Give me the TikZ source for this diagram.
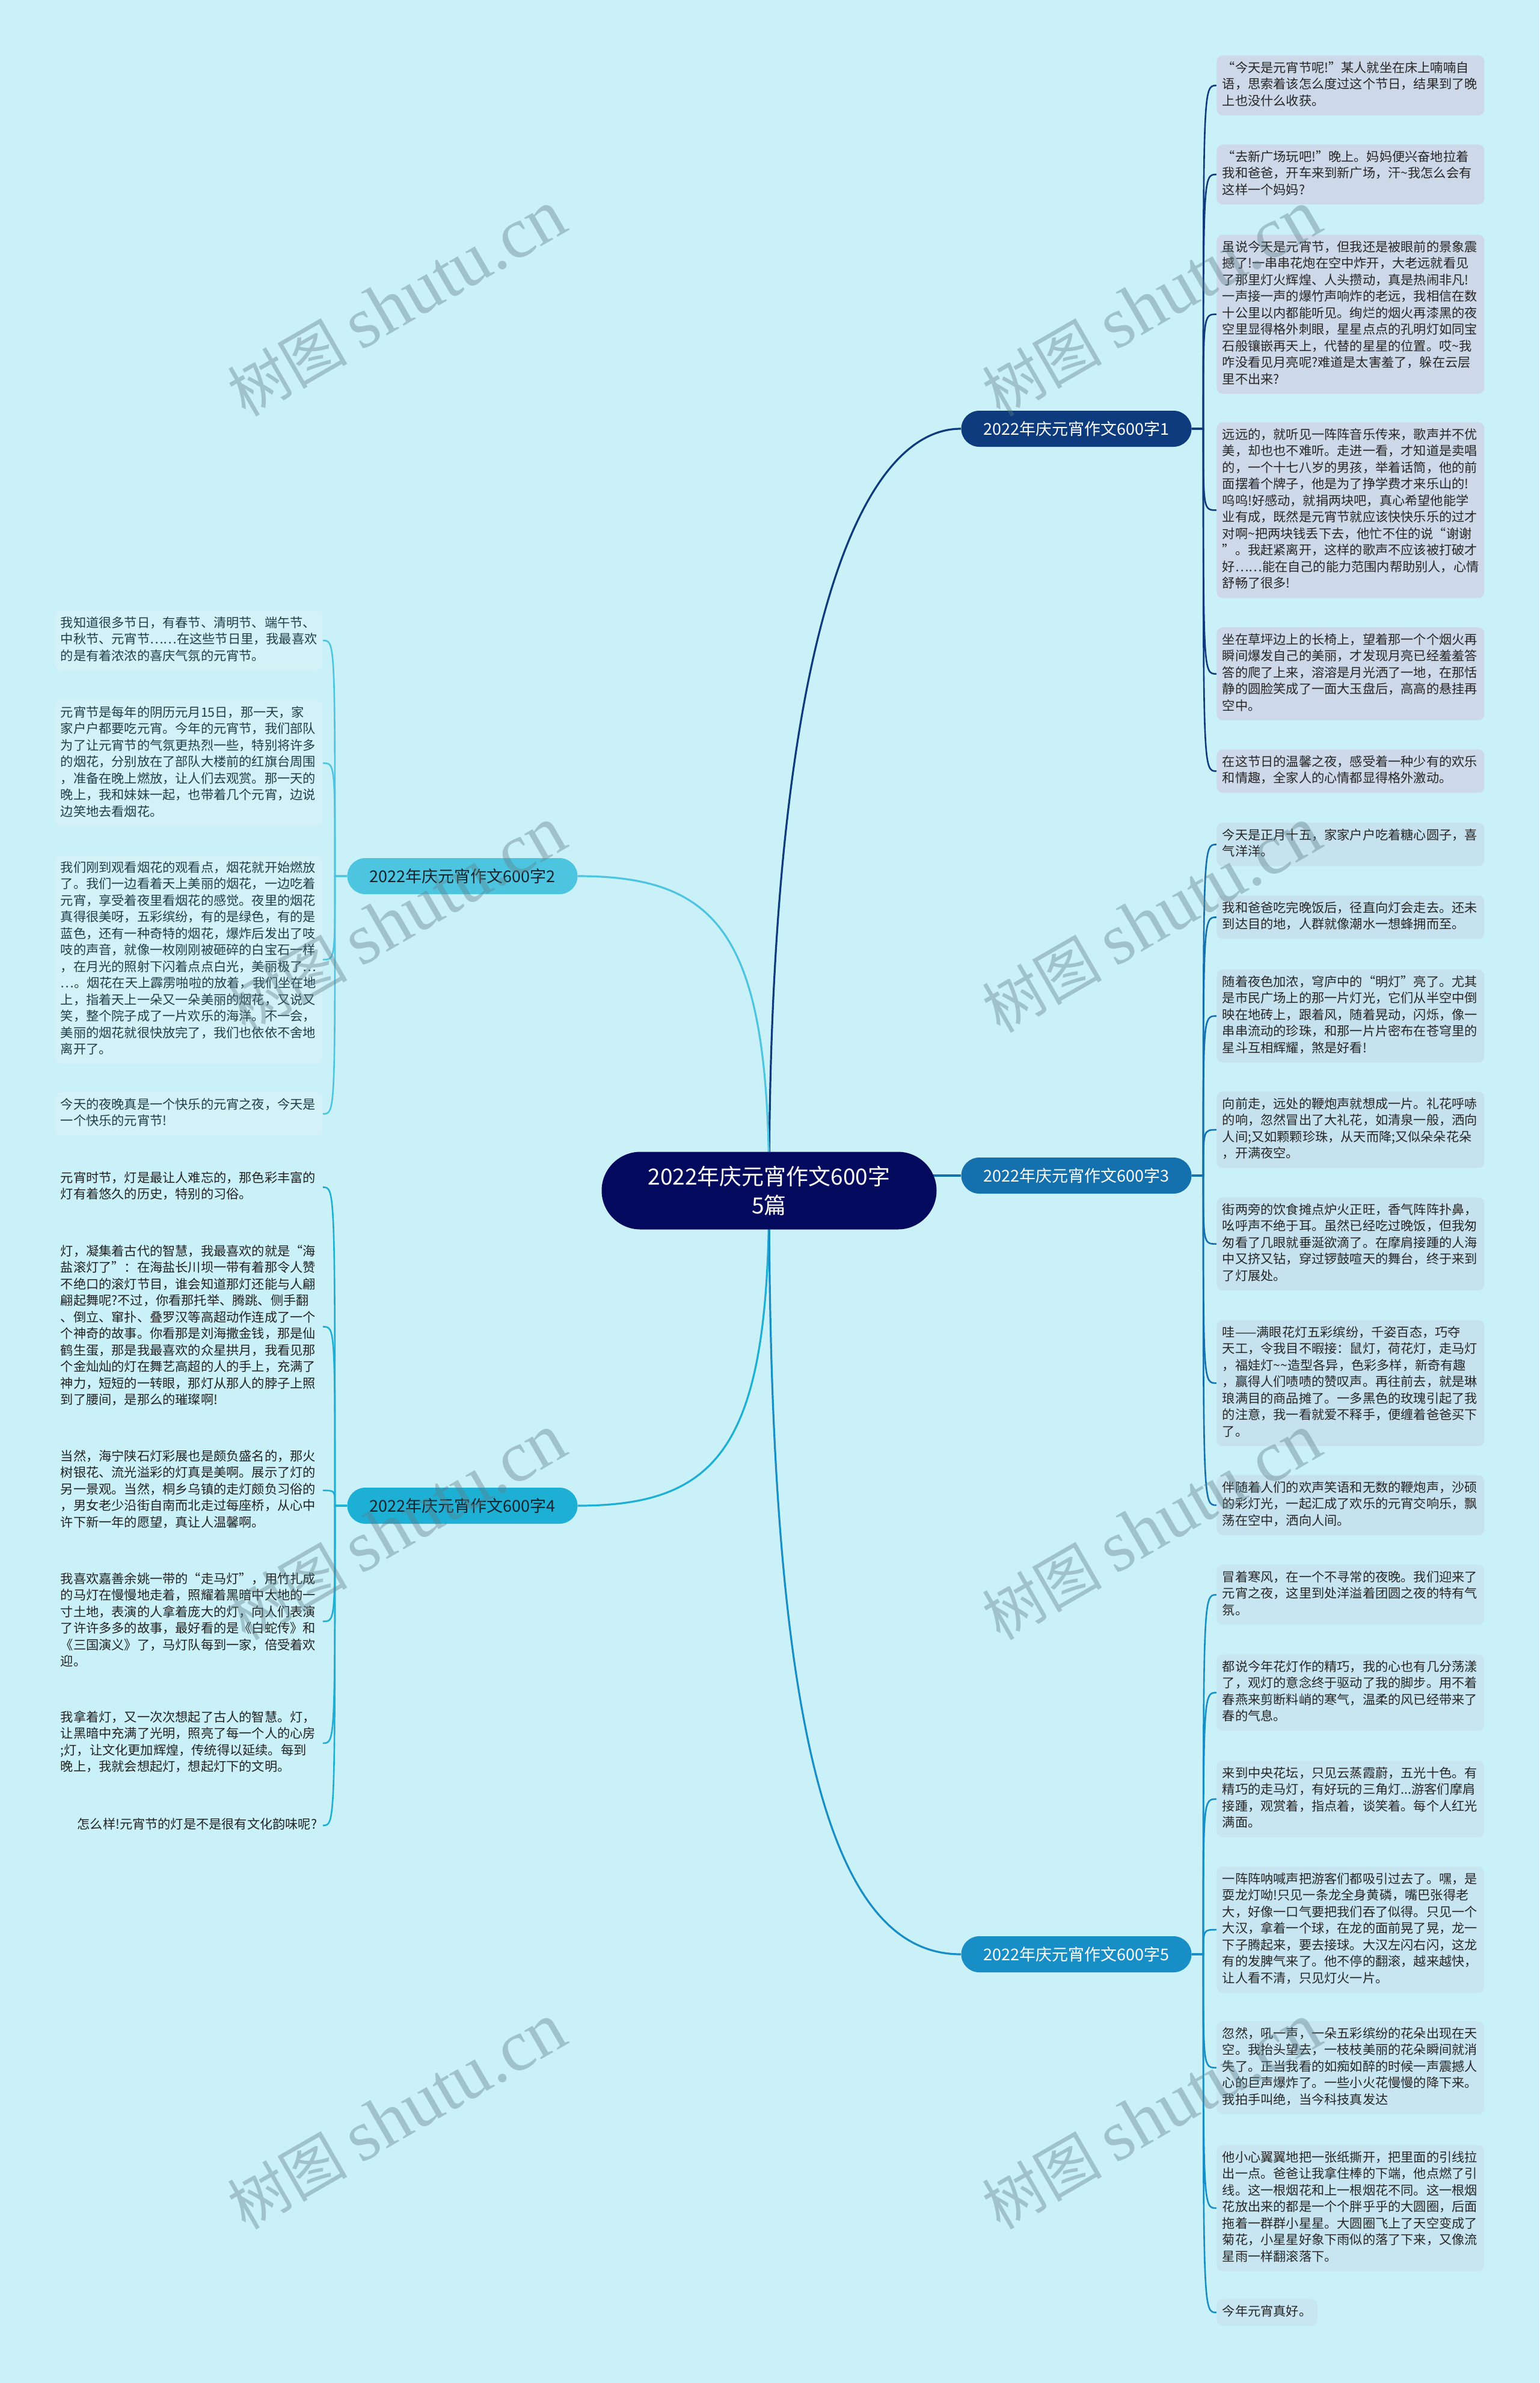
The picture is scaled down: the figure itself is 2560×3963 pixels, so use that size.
\documentclass[tikz,border=0pt]{standalone}
\usepackage{fontspec}
\setmainfont{Noto Sans CJK SC}
\newfontfamily\wmserif{Liberation Serif}
\usetikzlibrary{shapes.misc,backgrounds}
\definecolor{bgc}{HTML}{CAF0F8}
\definecolor{rootc}{HTML}{03095C}
\definecolor{c1}{HTML}{0E3B7D}
\definecolor{c2}{HTML}{4DC5E0}
\definecolor{c3}{HTML}{1570AE}
\definecolor{c4}{HTML}{1EAFD5}
\definecolor{c5}{HTML}{178FC6}
\definecolor{f1}{HTML}{CDD8E8}
\definecolor{f2}{HTML}{D3F1F7}
\definecolor{f3}{HTML}{C6E2EF}
\definecolor{f5}{HTML}{C8E6F2}
\definecolor{t1}{HTML}{262626}
\definecolor{t2}{HTML}{1E3E48}
\definecolor{t4}{HTML}{222222}
\definecolor{tdark}{HTML}{14232B}
\definecolor{wmc}{HTML}{5F7F88}
\newcommand\leaffont{\fontsize{10.6}{13.75}\selectfont}
\newcommand\brfont{\fontsize{13.5}{16}\selectfont}
\newcommand\rootfont{\fontsize{18.5}{24}\selectfont}
\begin{document}
\begin{tikzpicture}[x=0.5pt,y=-0.5pt,
 lfbase/.style={font=\leaffont, inner xsep=4.75pt, inner ysep=4.25pt, rounded corners=5pt, execute at begin node=\strut, execute at end node=\strut},
 lfw/.style={lfbase, text width=213pt, align=left},
 lfA/.style={lfw, anchor=north west, fill=f1, text=t1},
 lfC/.style={lfw, anchor=north west, fill=f3, text=t1},
 lfE/.style={lfw, anchor=north west, fill=f5, text=t1},
 lfB/.style={lfw, anchor=north west, fill=f2, text=t2},
 lfD/.style={lfw, anchor=north west, text=t4},
 brn/.style={rounded rectangle, minimum width=191.5pt, minimum height=30pt, inner sep=0pt, font=\brfont},
 rootn/.style={rounded rectangle, minimum width=278.5pt, minimum height=64.5pt, inner sep=0pt, fill=rootc, text=white, align=center, font=\rootfont},
 conr/.style={line width=1.6pt},
 conl/.style={line width=1.3pt},
 wm/.style={text=wmc, text opacity=0.4, rotate=30, inner sep=0pt}
]
\useasboundingbox (0,0) rectangle (2560,3963);
% root and branches
\node[rootn] (root) at (1279,1980) {2022年庆元宵作文600字\\5篇};
\node[brn, fill=c1, text=white] (b1) at (1790,713) {2022年庆元宵作文600字1};
\node[brn, fill=c3, text=white] (b3) at (1790,1955) {2022年庆元宵作文600字3};
\node[brn, fill=c5, text=white] (b5) at (1790,3250) {2022年庆元宵作文600字5};
\node[brn, fill=c2, text=tdark] (b2) at (769,1457) {2022年庆元宵作文600字2};
\node[brn, fill=c4, text=tdark] (b4) at (769,2504) {2022年庆元宵作文600字4};
\coordinate (s1) at (2001,713);
\coordinate (s3) at (2001,1955);
\coordinate (s5) at (2001,3250);
\coordinate (s2) at (557,1457);
\coordinate (s4) at (557,2504);
% branch 1 leaves
\node[lfA] (L11) at (2023,92) {“今天是元宵节呢!”某人就坐在床上喃喃自\\语，思索着该怎么度过这个节日，结果到了晚\\上也没什么收获。};
\node[lfA] (L12) at (2023,240) {“去新广场玩吧!”晚上。妈妈便兴奋地拉着\\我和爸爸，开车来到新广场，汗\textasciitilde 我怎么会有\\这样一个妈妈?};
\node[lfA] (L13) at (2023,390) {虽说今天是元宵节，但我还是被眼前的景象震\\撼了!一串串花炮在空中炸开，大老远就看见\\了那里灯火辉煌、人头攒动，真是热闹非凡!\\一声接一声的爆竹声响炸的老远，我相信在数\\十公里以内都能听见。绚烂的烟火再漆黑的夜\\空里显得格外刺眼，星星点点的孔明灯如同宝\\石般镶嵌再天上，代替的星星的位置。哎\textasciitilde 我\\咋没看见月亮呢?难道是太害羞了，躲在云层\\里不出来?};
\node[lfA] (L14) at (2023,702) {远远的，就听见一阵阵音乐传来，歌声并不优\\美，却也也不难听。走进一看，才知道是卖唱\\的，一个十七八岁的男孩，举着话筒，他的前\\面摆着个牌子，他是为了挣学费才来乐山的!\\呜呜!好感动，就捐两块吧，真心希望他能学\\业有成，既然是元宵节就应该快快乐乐的过才\\对啊\textasciitilde 把两块钱丢下去，他忙不住的说“谢谢\\”。我赶紧离开，这样的歌声不应该被打破才\\好……能在自己的能力范围内帮助别人，心情\\舒畅了很多!};
\node[lfA] (L15) at (2023,1043) {坐在草坪边上的长椅上，望着那一个个烟火再\\瞬间爆发自己的美丽，才发现月亮已经羞羞答\\答的爬了上来，溶溶是月光洒了一地，在那恬\\静的圆脸笑成了一面大玉盘后，高高的悬挂再\\空中。};
\node[lfA] (L16) at (2023,1246) {在这节日的温馨之夜，感受着一种少有的欢乐\\和情趣，全家人的心情都显得格外激动。};
% branch 3 leaves
\node[lfC] (L31) at (2023,1368) {今天是正月十五，家家户户吃着糖心圆子，喜\\气洋洋。};
\node[lfC] (L32) at (2023,1489) {我和爸爸吃完晚饭后，径直向灯会走去。还未\\到达目的地，人群就像潮水一想蜂拥而至。};
\node[lfC] (L33) at (2023,1612) {随着夜色加浓，穹庐中的“明灯”亮了。尤其\\是市民广场上的那一片灯光，它们从半空中倒\\映在地砖上，跟着风，随着晃动，闪烁，像一\\串串流动的珍珠，和那一片片密布在苍穹里的\\星斗互相辉耀，煞是好看!};
\node[lfC] (L34) at (2023,1815) {向前走，远处的鞭炮声就想成一片。礼花呼哧\\的响，忽然冒出了大礼花，如清泉一般，洒向\\人间;又如颗颗珍珠，从天而降;又似朵朵花朵\\，开满夜空。};
\node[lfC] (L35) at (2023,1991) {街两旁的饮食摊点炉火正旺，香气阵阵扑鼻，\\吆呼声不绝于耳。虽然已经吃过晚饭，但我匆\\匆看了几眼就垂涎欲滴了。在摩肩接踵的人海\\中又挤又钻，穿过锣鼓喧天的舞台，终于来到\\了灯展处。};
\node[lfC] (L36) at (2023,2195) {哇——满眼花灯五彩缤纷，千姿百态，巧夺\\天工，令我目不暇接：鼠灯，荷花灯，走马灯\\，福娃灯\textasciitilde\textasciitilde 造型各异，色彩多样，新奇有趣\\，赢得人们啧啧的赞叹声。再往前去，就是琳\\琅满目的商品摊了。一多黑色的玫瑰引起了我\\的注意，我一看就爱不释手，便缠着爸爸买下\\了。};
\node[lfC] (L37) at (2023,2453) {伴随着人们的欢声笑语和无数的鞭炮声，沙硕\\的彩灯光，一起汇成了欢乐的元宵交响乐，飘\\荡在空中，洒向人间。};
% branch 5 leaves
\node[lfE] (L51) at (2023,2602) {冒着寒风，在一个不寻常的夜晚。我们迎来了\\元宵之夜，这里到处洋溢着团圆之夜的特有气\\氛。};
\node[lfE] (L52) at (2023,2751) {都说今年花灯作的精巧，我的心也有几分荡漾\\了，观灯的意念终于驱动了我的脚步。用不着\\春燕来剪断料峭的寒气，温柔的风已经带来了\\春的气息。};
\node[lfE] (L53) at (2023,2928) {来到中央花坛，只见云蒸霞蔚，五光十色。有\\精巧的走马灯，有好玩的三角灯...游客们摩肩\\接踵，观赏着，指点着，谈笑着。每个人红光\\满面。};
\node[lfE] (L54) at (2023,3104) {一阵阵呐喊声把游客们都吸引过去了。嘿，是\\耍龙灯呦!只见一条龙全身黄磷，嘴巴张得老\\大，好像一口气要把我们吞了似得。只见一个\\大汉，拿着一个球，在龙的面前晃了晃，龙一\\下子腾起来，要去接球。大汉左闪右闪，这龙\\有的发脾气来了。他不停的翻滚，越来越快，\\让人看不清，只见灯火一片。};
\node[lfE] (L55) at (2023,3361) {忽然，吼一声，一朵五彩缤纷的花朵出现在天\\空。我抬头望去，一枝枝美丽的花朵瞬间就消\\失了。正当我看的如痴如醉的时候一声震撼人\\心的巨声爆炸了。一些小火花慢慢的降下来。\\我拍手叫绝，当今科技真发达};
\node[lfE] (L56) at (2023,3567) {他小心翼翼地把一张纸撕开，把里面的引线拉\\出一点。爸爸让我拿住棒的下端，他点燃了引\\线。这一根烟花和上一根烟花不同。这一根烟\\花放出来的都是一个个胖乎乎的大圆圈，后面\\拖着一群群小星星。大圆圈飞上了天空变成了\\菊花，小星星好象下雨似的落了下来，又像流\\星雨一样翻滚落下。};
\node[lfbase, anchor=north west, fill=f5, text=t1] (L57) at (2023,3823) {今年元宵真好。};
% branch 2 leaves
\node[lfB] (L21) at (91,1015) {我知道很多节日，有春节、清明节、端午节、\\中秋节、元宵节……在这些节日里，我最喜欢\\的是有着浓浓的喜庆气氛的元宵节。};
\node[lfB] (L22) at (91,1164) {元宵节是每年的阴历元月15日，那一天，家\\家户户都要吃元宵。今年的元宵节，我们部队\\为了让元宵节的气氛更热烈一些，特别将许多\\的烟花，分别放在了部队大楼前的红旗台周围\\，准备在晚上燃放，让人们去观赏。那一天的\\晚上，我和妹妹一起，也带着几个元宵，边说\\边笑地去看烟花。};
\node[lfB] (L23) at (91,1422) {我们刚到观看烟花的观看点，烟花就开始燃放\\了。我们一边看着天上美丽的烟花，一边吃着\\元宵，享受着夜里看烟花的感觉。夜里的烟花\\真得很美呀，五彩缤纷，有的是绿色，有的是\\蓝色，还有一种奇特的烟花，爆炸后发出了吱\\吱的声音，就像一枚刚刚被砸碎的白宝石一样\\，在月光的照射下闪着点点白光，美丽极了…\\…。烟花在天上霹雳啪啦的放着，我们坐在地\\上，指着天上一朵又一朵美丽的烟花，又说又\\笑，整个院子成了一片欢乐的海洋。不一会，\\美丽的烟花就很快放完了，我们也依依不舍地\\离开了。};
\node[lfB] (L24) at (91,1816) {今天的夜晚真是一个快乐的元宵之夜，今天是\\一个快乐的元宵节!};
% branch 4 leaves
\node[lfD] (L41) at (91,1938) {元宵时节，灯是最让人难忘的，那色彩丰富的\\灯有着悠久的历史，特别的习俗。};
\node[lfD] (L42) at (91,2060) {灯，凝集着古代的智慧，我最喜欢的就是“海\\盐滚灯了”：在海盐长川坝一带有着那令人赞\\不绝口的滚灯节目，谁会知道那灯还能与人翩\\翩起舞呢?不过，你看那托举、腾跳、侧手翻\\、倒立、窜扑、叠罗汉等高超动作连成了一个\\个神奇的故事。你看那是刘海撒金钱，那是仙\\鹤生蛋，那是我最喜欢的众星拱月，我看见那\\个金灿灿的灯在舞艺高超的人的手上，充满了\\神力，短短的一转眼，那灯从那人的脖子上照\\到了腰间，是那么的璀璨啊!};
\node[lfD] (L43) at (91,2401) {当然，海宁陕石灯彩展也是颇负盛名的，那火\\树银花、流光溢彩的灯真是美啊。展示了灯的\\另一景观。当然，桐乡乌镇的走灯颇负习俗的\\，男女老少沿街自南而北走过每座桥，从心中\\许下新一年的愿望，真让人温馨啊。};
\node[lfD] (L44) at (91,2605) {我喜欢嘉善余姚一带的“走马灯”，用竹扎成\\的马灯在慢慢地走着，照耀着黑暗中大地的一\\寸土地，表演的人拿着庞大的灯，向人们表演\\了许许多多的故事，最好看的是《白蛇传》和\\《三国演义》了，马灯队每到一家，倍受着欢\\迎。};
\node[lfD] (L45) at (91,2835) {我拿着灯，又一次次想起了古人的智慧。灯，\\让黑暗中充满了光明，照亮了每一个人的心房\\;灯，让文化更加辉煌，传统得以延续。每到\\晚上，我就会想起灯，想起灯下的文明。};
\node[lfbase, anchor=north east, text=t4] (L46) at (537,3013) {怎么样!元宵节的灯是不是很有文化韵味呢?};
% connectors and background
\begin{pgfonlayer}{background}
\fill[bgc] (0,0) rectangle (2560,3963);
\draw[conr, c1] (root.center) .. controls (1279,1100) and (1420,713) .. (b1.west);
\draw[conr, c2] (root.center) .. controls (1279,1560) and (1200,1457) .. (b2.east);
\draw[conr, c3] (root.center |- b3.west) -- (b3.west);
\draw[conr, c4] (root.center) .. controls (1279,2400) and (1200,2504) .. (b4.east);
\draw[conr, c5] (root.center) .. controls (1279,2950) and (1400,3250) .. (b5.west);
\foreach \l in {L11,L12,L13,L14,L15,L16}
  \draw[conl, c1] (b1.east) -- (s1) .. controls (s1 |- \l.west) .. (\l.west);
\foreach \l in {L31,L32,L33,L34,L35,L36,L37}
  \draw[conl, c3] (b3.east) -- (s3) .. controls (s3 |- \l.west) .. (\l.west);
\foreach \l in {L51,L52,L53,L54,L55,L56,L57}
  \draw[conl, c5] (b5.east) -- (s5) .. controls (s5 |- \l.west) .. (\l.west);
\foreach \l in {L21,L22,L23,L24}
  \draw[conl, c2] (b2.west) -- (s2) .. controls (s2 |- \l.east) .. (\l.east);
\draw[conl, c4] (b4.west) -- (s4) .. controls (s4 |- L41.east) .. (L41.east);
\draw[conl, c4] (b4.west) -- (s4) .. controls (s4 |- L42.east) .. (L42.east);
\draw[conl, c4] (b4.west) -- (s4) .. controls (s4 |- L43.east) .. (L43.east);
\draw[conl, c4] (b4.west) -- (s4) .. controls (s4 |- L44.east) .. (L44.east);
\draw[conl, c4] (b4.west) -- (s4) .. controls (s4 |- L45.east) .. (L45.east);
\draw[conl, c4] (b4.west) -- (s4) .. controls (s4 |- L46.east) .. (L46.east);
\end{pgfonlayer}
% watermarks
\node[wm] (w1) at (660,505) {\fontsize{50}{50}\selectfont 树图 {\wmserif\fontsize{60}{60}\selectfont shutu.cn}};
\node[wm] (w2) at (1915,505) {\fontsize{50}{50}\selectfont 树图 {\wmserif\fontsize{60}{60}\selectfont shutu.cn}};
\node[wm] (w3) at (660,1530) {\fontsize{50}{50}\selectfont 树图 {\wmserif\fontsize{60}{60}\selectfont shutu.cn}};
\node[wm] (w4) at (1915,1530) {\fontsize{50}{50}\selectfont 树图 {\wmserif\fontsize{60}{60}\selectfont shutu.cn}};
\node[wm] (w5) at (660,2540) {\fontsize{50}{50}\selectfont 树图 {\wmserif\fontsize{60}{60}\selectfont shutu.cn}};
\node[wm] (w6) at (1915,2540) {\fontsize{50}{50}\selectfont 树图 {\wmserif\fontsize{60}{60}\selectfont shutu.cn}};
\node[wm] (w7) at (660,3520) {\fontsize{50}{50}\selectfont 树图 {\wmserif\fontsize{60}{60}\selectfont shutu.cn}};
\node[wm] (w8) at (1915,3520) {\fontsize{50}{50}\selectfont 树图 {\wmserif\fontsize{60}{60}\selectfont shutu.cn}};
\end{tikzpicture}
\end{document}
